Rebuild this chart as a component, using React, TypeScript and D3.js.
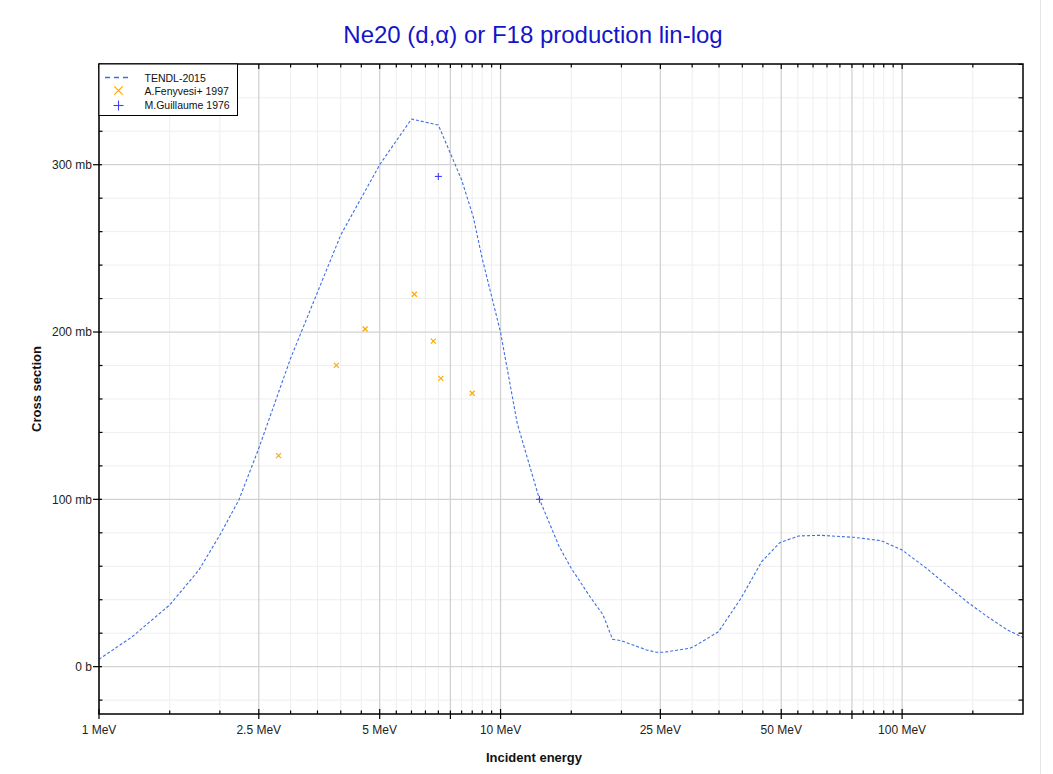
import React from "react";
import * as d3 from "d3";

// TENDL-2015 curve (energy MeV, cross section mb)
const tendlE = [1, 1.21, 1.5, 1.774, 2, 2.23, 2.5, 3, 4, 5, 6, 7, 7.5, 8, 8.55, 9, 10, 11, 12.5, 14, 15, 16.7, 18, 19, 20, 23.1, 24.4, 25.5, 29.6, 30.3, 34.9, 39.7, 44.7, 49.6, 55.2, 62.6, 75.8, 88.7, 100, 115, 129, 145, 163, 183, 200];
const tendlV = [4.4, 17.9, 36.9, 57.8, 78.7, 99.6, 130.5, 184.3, 258, 300, 327.3, 323.7, 306.8, 290.9, 268.9, 244, 199.8, 145.5, 100, 71.7, 58.8, 41.8, 30.9, 16.4, 15.5, 10, 8.6, 8.6, 11, 12, 20.9, 40.9, 62.8, 74.1, 78.1, 78.5, 77.3, 75.3, 69.7, 58.8, 48.8, 38.8, 29.9, 21.9, 17.5];

// A.Fenyvesi+ 1997
const fenyE = [2.8, 3.9, 4.6, 6.1, 6.8, 7.1, 8.5];
const fenyV = [126.1, 180.1, 201.8, 222.6, 194.6, 172.3, 163.4];

// M.Guillaume 1976
const guilE = [7.0, 12.5];
const guilV = [293, 100];

const xMajor = [1, 2.5, 5, 10, 25, 50, 100];
const xMajorLabels = ["1 MeV", "2.5 MeV", "5 MeV", "10 MeV", "25 MeV", "50 MeV", "100 MeV"];
const xMedium = [7.5, 75];
const xMinor = [1.5, 2, 3, 3.5, 4, 4.5, 5.5, 6, 6.5, 7, 8, 8.5, 9, 9.5, 15, 20, 30, 35, 40, 45, 55, 60, 65, 70, 80, 85, 90, 95, 150];
const yMajor = [0, 100, 200, 300];
const yMajorLabels = ["0 b", "100 mb", "200 mb", "300 mb"];
const yMinor = [-20, 20, 40, 60, 80, 120, 140, 160, 180, 220, 240, 260, 280, 320, 340, 360];

const legendLabels = ["TENDL-2015", "A.Fenyvesi+ 1997", "M.Guillaume 1976"];

const L = 99, R = 1023, T = 64, B = 714;
const FONT = "Liberation Sans, Arial, sans-serif";
const LINE_C = "#3e6ee6";
const ORANGE = "#ffaa00";
const PLUS_C = "#4040ff";

export default function App() {
  const x = d3.scaleLog().domain([1, 200]).range([L, R]);
  const y = d3.scaleLinear().domain([-28.3, 360.2]).range([B, T]);
  const line = d3
    .line<number>()
    .x((_, i) => x(tendlE[i]))
    .y((d) => y(d));
  const pathD = line(tendlV) || "";

  const xMark = (cx: number, cy: number, s: number, key: string) => (
    <g key={key} stroke={ORANGE} strokeWidth={1.2}>
      <line x1={cx - s} y1={cy - s} x2={cx + s} y2={cy + s} />
      <line x1={cx - s} y1={cy + s} x2={cx + s} y2={cy - s} />
    </g>
  );
  const plusMark = (cx: number, cy: number, s: number, key: string) => (
    <g key={key} stroke={PLUS_C} strokeWidth={1.1}>
      <line x1={cx - s} y1={cy} x2={cx + s} y2={cy} />
      <line x1={cx} y1={cy - s} x2={cx} y2={cy + s} />
    </g>
  );

  return (
    <svg
      width={1053}
      height={774}
      style={{ position: "absolute", left: 0, top: 0, background: "#fff" }}
      fontFamily={FONT}
    >
      <rect x={0} y={0} width={1053} height={774} fill="#fff" />
      <line x1={1040.5} y1={0} x2={1040.5} y2={774} stroke="#e4e4e4" />
      <defs>
        <clipPath id="plotclip">
          <rect x={L} y={T} width={R - L} height={B - T} />
        </clipPath>
      </defs>
      {/* grid */}
      <g>
        {xMinor.map((v) => (
          <line key={"gx" + v} x1={x(v)} x2={x(v)} y1={T} y2={B} stroke="#eeeeee" strokeWidth={1} />
        ))}
        {yMinor.map((v) => (
          <line key={"gy" + v} x1={L} x2={R} y1={y(v)} y2={y(v)} stroke="#eeeeee" strokeWidth={1} />
        ))}
        {[...xMajor, ...xMedium].map((v) => (
          <line key={"GX" + v} x1={x(v)} x2={x(v)} y1={T} y2={B} stroke="#d2d2d2" strokeWidth={1.3} />
        ))}
        {yMajor.map((v) => (
          <line key={"GY" + v} x1={L} x2={R} y1={y(v)} y2={y(v)} stroke="#d2d2d2" strokeWidth={1.3} />
        ))}
      </g>
      {/* curve */}
      <g clipPath="url(#plotclip)">
        <path d={pathD} fill="none" stroke={LINE_C} strokeWidth={1.1} strokeDasharray="3,2" />
        {fenyE.map((e, i) => xMark(x(e), y(fenyV[i]), 2.5, "f" + i))}
        {guilE.map((e, i) => plusMark(x(e), y(guilV[i]), 3.5, "g" + i))}
      </g>
      {/* frame */}
      <rect x={L} y={T} width={R - L} height={B - T} fill="none" stroke="#000" strokeWidth={1.5} />
      {/* x ticks */}
      <g stroke="#000" strokeWidth={1.2}>
        {xMajor.map((v) => (
          <g key={"tx" + v}>
            <line x1={x(v)} x2={x(v)} y1={B - 5} y2={B + 5} />
            <line x1={x(v)} x2={x(v)} y1={T} y2={T + 5} />
          </g>
        ))}
        {xMedium.map((v) => (
          <g key={"tm" + v}>
            <line x1={x(v)} x2={x(v)} y1={B - 3.5} y2={B + 5} />
            <line x1={x(v)} x2={x(v)} y1={T} y2={T + 4} />
          </g>
        ))}
        {xMinor.map((v) => (
          <g key={"tn" + v}>
            <line x1={x(v)} x2={x(v)} y1={B - 3.5} y2={B} />
            <line x1={x(v)} x2={x(v)} y1={T} y2={T + 3.5} />
          </g>
        ))}
        {yMajor.map((v) => (
          <g key={"ty" + v}>
            <line x1={L - 6} x2={L + 3} y1={y(v)} y2={y(v)} />
            <line x1={R - 5} x2={R} y1={y(v)} y2={y(v)} />
          </g>
        ))}
        {yMinor.map((v) => (
          <g key={"tyn" + v}>
            <line x1={L} x2={L + 3.5} y1={y(v)} y2={y(v)} />
            <line x1={R - 4.5} x2={R} y1={y(v)} y2={y(v)} />
          </g>
        ))}
      </g>
      {/* tick labels */}
      <g fontSize={12} fill="#222">
        {xMajor.map((v, i) => (
          <text key={"lx" + v} x={x(v)} y={734} textAnchor="middle">
            {xMajorLabels[i]}
          </text>
        ))}
        {yMajor.map((v, i) => (
          <text key={"ly" + v} x={92} y={y(v) + 4.3} textAnchor="end">
            {yMajorLabels[i]}
          </text>
        ))}
      </g>
      {/* axis titles */}
      <text x={534} y={762} textAnchor="middle" fontSize={13} fontWeight="bold" fill="#111">
        Incident energy
      </text>
      <text
        transform={`translate(41,${(T + B) / 2}) rotate(-90)`}
        textAnchor="middle"
        fontSize={13}
        fontWeight="bold"
        fill="#111"
      >
        Cross section
      </text>
      {/* title */}
      <text x={533} y={43} textAnchor="middle" fontSize={24} fill="#1515c8">
        Ne20 (d,α) or F18 production lin-log
      </text>
      {/* legend */}
      <g>
        <rect x={L} y={T} width={138.5} height={51.5} fill="#fff" stroke="#000" strokeWidth={1} />
        <line x1={105} x2={131} y1={77.5} y2={77.5} stroke={LINE_C} strokeWidth={1.5} strokeDasharray="5,4" />
        {xMark(118.5, 90.5, 4.2, "lx")}
        {plusMark(118.5, 105.5, 5, "lp")}
        <g fontSize={10.5} fill="#111">
          {legendLabels.map((t, i) => (
            <text key={t} x={144.5} y={81.5 + i * 13.8}>
              {t}
            </text>
          ))}
        </g>
      </g>
    </svg>
  );
}
